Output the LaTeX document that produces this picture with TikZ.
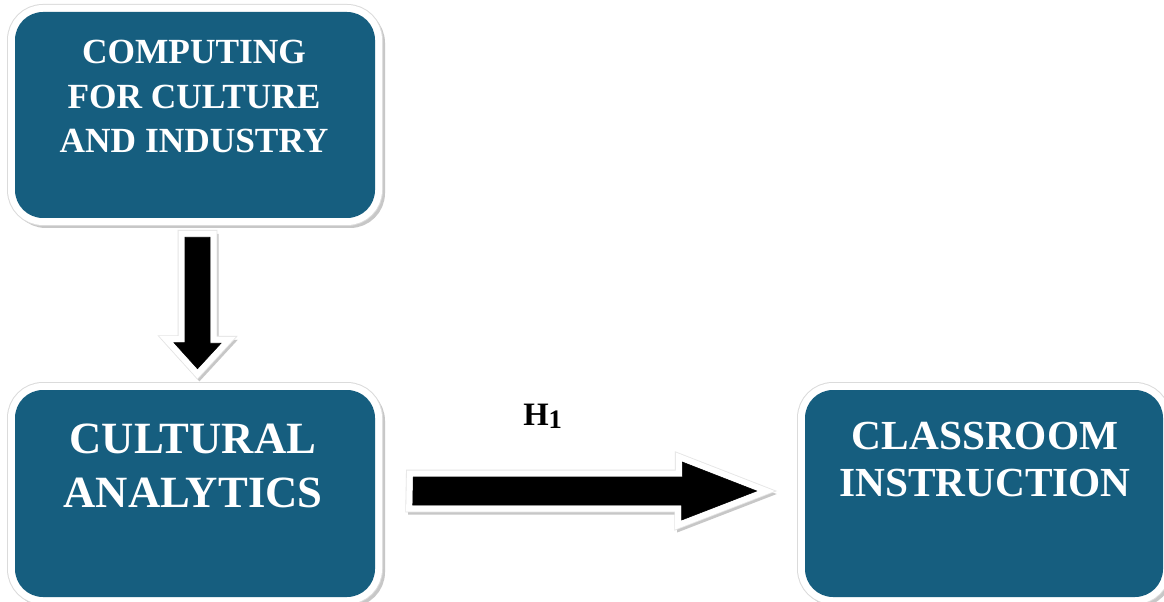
\documentclass[tikz,border=0pt]{standalone}
\usepackage{fontspec}
\setmainfont{Liberation Serif}
\usetikzlibrary{calc}
\definecolor{boxblue}{RGB}{22,94,127}
\begin{document}
\begin{tikzpicture}[x=0.75pt,y=-0.75pt]
\tikzset{
 panel/.style={rectangle, rounded corners=21pt, inner sep=0pt, fill=boxblue,
   preaction={fill=black!22, draw=black!22, line width=10.5pt, transform canvas={shift={(3,3)}}},
   preaction={draw=black!14, line width=12pt},
   preaction={draw=white, line width=10.5pt}},
 boxtext/.style={text=white, align=center, inner sep=0pt, anchor=north},
 fat/.style={fill=black, line join=miter, miter limit=20,
   preaction={draw=black!22, fill=black!22, line width=9.75pt, line join=miter, miter limit=20, transform canvas={shift={(2,3)}}},
   preaction={draw=black!10, line width=11pt, line join=miter, miter limit=20},
   preaction={draw=white, line width=9.75pt, line join=miter, miter limit=20}}
}
\useasboundingbox (0,0) rectangle (1164,602);
\fill[white] (0,0) rectangle (1164,602);

\node[panel, minimum width=270pt, minimum height=154.5pt] (b1) at (195,115) {};
\node[panel, minimum width=270pt, minimum height=155.25pt] (b2) at (195,493.5) {};
\node[panel, minimum width=268.5pt, minimum height=155.25pt] (b3) at (984,493.5) {};

\node[boxtext, font=\bfseries\fontsize{26.5}{33.4}\selectfont] (t1) at (194,40) {COMPUTING\\FOR CULTURE\\AND INDUSTRY};
\node[boxtext, font=\bfseries\fontsize{33.5}{40}\selectfont] (t2) at (193,424) {CULTURAL\\ANALYTICS};
\node[boxtext, font=\bfseries\fontsize{31}{35.25}\selectfont] (t3) at (985,422) {CLASSROOM\\INSTRUCTION};

\draw[fat] ($(b1.south)+(-10,19)$) -- ++(25,0) -- ++(0,106) -- ++(11,0)
  -- ($(b2.north)+(2.5,-21)$) -- ++(-23.5,-26) -- ++(11,0) -- cycle;

\draw[fat] ($(b2.east)+(38,-16.5)$) -- ++(269,0) -- ++(0,-15)
  -- ($(b3.west)+(-48,-2.5)$) -- ++(-75,29) -- ++(0,-15) -- ++(-269,0) -- cycle;

\node[font=\bfseries\fontsize{24.5}{24.5}\selectfont, anchor=base west, inner sep=0pt] (h) at (523,425)
  {H\raisebox{-2.5pt}{\fontsize{20}{20}\selectfont 1}};
\end{tikzpicture}
\end{document}
